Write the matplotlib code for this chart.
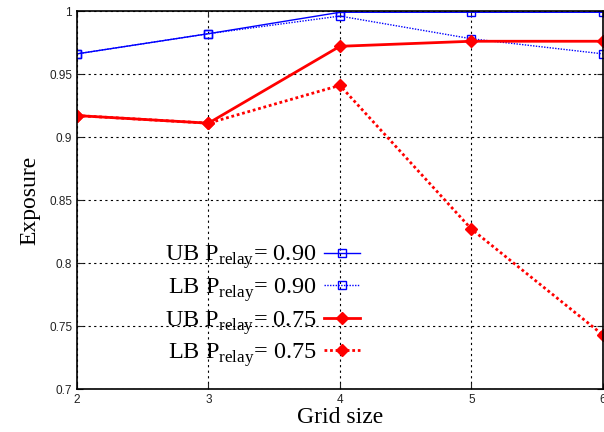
import matplotlib
matplotlib.use("Agg")
import matplotlib.pyplot as plt
from matplotlib.ticker import FuncFormatter

# data
grid_size = [2, 3, 4, 5, 6]
ub_090 = [0.966, 0.982, 0.999, 0.999, 0.999]
lb_090 = [0.966, 0.982, 0.996, 0.978, 0.966]
ub_075 = [0.917, 0.911, 0.972, 0.976, 0.976]
lb_075 = [0.917, 0.911, 0.941, 0.827, 0.743]

plt.rcParams['font.family'] = ['Liberation Serif', 'DejaVu Serif']
plt.rcParams['mathtext.fontset'] = 'custom'
plt.rcParams['mathtext.rm'] = 'Liberation Serif'

fig = plt.figure(figsize=(6.04, 4.32), dpi=100)
ax = fig.add_axes([0.1275, 0.0995, 0.8705, 0.875])

ax.plot(grid_size, ub_090, color='blue', lw=1.0, marker='s', ms=5.5, mfc='none', mew=1.0,
        label=r'UB P$_{\mathrm{relay}}$= 0.90')
ax.plot(grid_size, lb_090, color='blue', lw=1.0, ls=(0, (1, 1)), marker='s', ms=5.5, mfc='none', mew=1.0,
        label=r'LB P$_{\mathrm{relay}}$= 0.90')
ax.plot(grid_size, ub_075, color='red', lw=2.0, marker='D', ms=6.5,
        label=r'UB P$_{\mathrm{relay}}$= 0.75')
ax.plot(grid_size, lb_075, color='red', lw=2.0, ls=(0, (1, 1)), marker='D', ms=6.5,
        label=r'LB P$_{\mathrm{relay}}$= 0.75')

ax.set_xlim(2, 6)
ax.set_ylim(0.7, 1.0)
ax.set_xticks(grid_size)
ax.set_yticks([0.7, 0.75, 0.8, 0.85, 0.9, 0.95, 1.0])
ax.yaxis.set_major_formatter(FuncFormatter(lambda v, p: ('%.2f' % v).rstrip('0').rstrip('.')))
ax.grid(True, color='black', ls=(0, (2, 3)), lw=0.8)
ax.tick_params(direction='in', top=True, right=True, length=4, colors='#222222')
for lab in ax.get_xticklabels() + ax.get_yticklabels():
    lab.set_family('Liberation Sans')
    lab.set_fontsize(8.5)
for s in ax.spines.values():
    s.set_linewidth(1.2)

ax.set_xlabel('Grid size', fontsize=17, labelpad=1)
ax.set_ylabel('Exposure', fontsize=17, labelpad=6)

ax.legend(loc='upper right', bbox_to_anchor=(0.557, 0.41), markerfirst=False,
          frameon=False, fontsize=17.5, handlelength=1.5, labelspacing=0.2,
          handletextpad=0.3, borderaxespad=0)

fig.savefig('out.png', dpi=100)
